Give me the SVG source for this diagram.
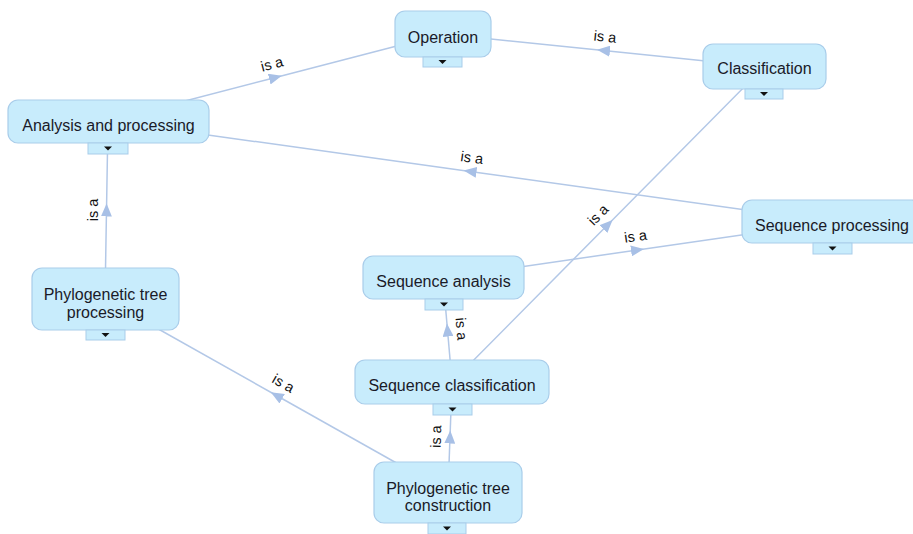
<svg xmlns="http://www.w3.org/2000/svg" width="913" height="534" viewBox="0 0 913 534">
  <defs>
    <style>
      .edge { fill: none; stroke: #b3c8e7; stroke-width: 1.5; marker-mid: url(#arrow); }
      .box { fill: #c8ecfc; stroke: #a9cdea; stroke-width: 1.2; }
      .tab { fill: #c8ecfc; stroke: #a9cdea; stroke-width: 1; }
      .caret { fill: #111; }
      .name { font-family: "Liberation Sans", Arial, sans-serif; font-size: 16px; fill: #1a1a28; text-anchor: middle; }
      .lbl { font-family: "Liberation Sans", Arial, sans-serif; font-size: 14.5px; fill: #111; text-anchor: middle; }
    </style>
    <marker id="arrow" viewBox="0 0 13 11" markerWidth="13" markerHeight="11" refX="6.5" refY="5.5" orient="auto" markerUnits="userSpaceOnUse">
      <path d="M0,0 L13,5.5 L0,11 Z" fill="#a8c0e6"/>
    </marker>
    <path id="caret" d="M-4,-2 L4,-2 L0,2 Z"/>
  </defs>

  <rect width="913" height="534" fill="#ffffff"/>

  <!-- "is a" connectors, drawn centre to centre with the arrow at the midpoint -->
  <g id="connectors">
    <polyline class="edge" points="108,121 275.5,77.5 443,34"/>
    <polyline class="edge" points="764,67 603.5,50.5 443,34"/>
    <polyline class="edge" points="832,222 470,171.5 108,121"/>
    <polyline class="edge" points="105,299 106.5,210 108,121"/>
    <polyline class="edge" points="452,382 608,224.5 764,67"/>
    <polyline class="edge" points="443,278 637.5,250 832,222"/>
    <polyline class="edge" points="452,382 447.5,330 443,278"/>
    <polyline class="edge" points="448,492 450,437 452,382"/>
    <polyline class="edge" points="448,492 276.5,395.5 105,299"/>

    <text class="lbl" transform="translate(275.5,77.5) rotate(-14.6)" y="-9">is a</text>
    <text class="lbl" transform="translate(603.5,50.5) rotate(5.9)" y="-9">is a</text>
    <text class="lbl" transform="translate(470,171.5) rotate(8)" y="-9">is a</text>
    <text class="lbl" transform="translate(106.5,210) rotate(-90)" y="-9">is a</text>
    <text class="lbl" transform="translate(608,224.5) rotate(-45.3)" y="-9">is a</text>
    <text class="lbl" transform="translate(637.5,250) rotate(-8.2)" y="-9">is a</text>
    <text class="lbl" transform="translate(447.5,330) rotate(85)" y="-9">is a</text>
    <text class="lbl" transform="translate(450,437) rotate(-88)" y="-9">is a</text>
    <text class="lbl" transform="translate(276.5,395.5) rotate(29.4)" y="-9">is a</text>
  </g>

  <g id="operation">
    <rect class="box" x="395" y="11" width="96" height="46" rx="10"/>
    <rect class="tab" x="423" y="57" width="39" height="10"/>
    <use class="caret" href="#caret" x="442.5" y="62"/>
    <text class="name" x="443" y="42.5">Operation</text>
  </g>

  <g id="classification">
    <rect class="box" x="703" y="44" width="123" height="45" rx="10"/>
    <rect class="tab" x="745" y="89" width="38" height="10"/>
    <use class="caret" href="#caret" x="764" y="94"/>
    <text class="name" x="764.5" y="74">Classification</text>
  </g>

  <g id="analysis-and-processing">
    <rect class="box" x="8" y="100" width="201" height="43" rx="10"/>
    <rect class="tab" x="88" y="143" width="40" height="11"/>
    <use class="caret" href="#caret" x="108" y="148.5"/>
    <text class="name" x="108.5" y="131">Analysis and processing</text>
  </g>

  <g id="sequence-processing">
    <rect class="box" x="742" y="200" width="180" height="43" rx="10"/>
    <rect class="tab" x="813" y="243" width="39" height="11"/>
    <use class="caret" href="#caret" x="832.5" y="248.5"/>
    <text class="name" x="832" y="231">Sequence processing</text>
  </g>

  <g id="sequence-analysis">
    <rect class="box" x="363" y="256" width="161" height="43" rx="10"/>
    <rect class="tab" x="425" y="299" width="38" height="11"/>
    <use class="caret" href="#caret" x="444" y="304.5"/>
    <text class="name" x="443.5" y="287">Sequence analysis</text>
  </g>

  <g id="sequence-classification">
    <rect class="box" x="355" y="360" width="194" height="44" rx="10"/>
    <rect class="tab" x="433" y="404" width="39" height="11"/>
    <use class="caret" href="#caret" x="452.5" y="409.5"/>
    <text class="name" x="452" y="391">Sequence classification</text>
  </g>

  <g id="phylogenetic-tree-processing">
    <rect class="box" x="32" y="268" width="147" height="62" rx="10"/>
    <rect class="tab" x="86" y="330" width="39" height="10"/>
    <use class="caret" href="#caret" x="105.5" y="335"/>
    <text class="name" x="105.5" y="300">Phylogenetic tree</text>
    <text class="name" x="105.5" y="318">processing</text>
  </g>

  <g id="phylogenetic-tree-construction">
    <rect class="box" x="374" y="462" width="148" height="61" rx="10"/>
    <rect class="tab" x="428" y="523" width="38" height="11"/>
    <use class="caret" href="#caret" x="447" y="528.5"/>
    <text class="name" x="448" y="494">Phylogenetic tree</text>
    <text class="name" x="448" y="511">construction</text>
  </g>
</svg>
